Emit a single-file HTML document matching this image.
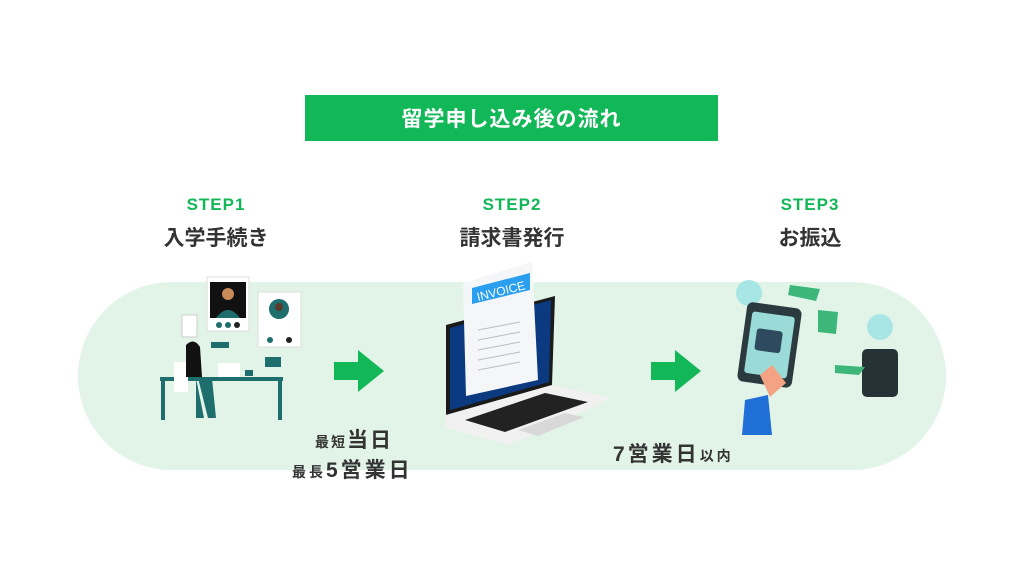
<!DOCTYPE html>
<html><head><meta charset="utf-8"><style>
html,body{margin:0;padding:0;background:#fff;}
body{width:1024px;height:576px;overflow:hidden;position:relative;font-family:"Liberation Sans","Noto Sans CJK JP",sans-serif;}
.t{position:absolute;font-weight:bold;white-space:nowrap;}
</style></head><body>
<svg width="1024" height="576" style="position:absolute;left:0;top:0">
<rect x="78" y="282" width="868" height="188" rx="94" fill="#e2f4e8"/>
<rect x="305" y="95" width="413" height="46" fill="#12b757"/>
<polygon points="334,362 358,362 358,350 384,371 358,392 358,380 334,380" fill="#12b757"/>
<polygon points="651,362 675,362 675,350 701,371 675,392 675,380 651,380" fill="#12b757"/>
<rect x="207" y="277" width="42" height="54" fill="#fff" stroke="#ddd"/>
<rect x="210" y="282" width="36" height="36" fill="#111"/>
<circle cx="228" cy="294" r="6" fill="#c98a5a"/>
<path d="M216 318 q12 -16 24 0z" fill="#1f6e6e"/>
<circle cx="219" cy="325" r="3" fill="#1f6e6e"/><circle cx="228" cy="325" r="3" fill="#1f6e6e"/><circle cx="237" cy="325" r="3" fill="#222"/>
<rect x="258" y="292" width="43" height="55" fill="#fff" stroke="#ddd"/>
<circle cx="279" cy="309" r="10" fill="#1f6e6e"/><circle cx="279" cy="307" r="4" fill="#5a3a2a"/>
<circle cx="270" cy="340" r="3" fill="#1f6e6e"/><circle cx="289" cy="340" r="3" fill="#222"/>
<rect x="182" y="315" width="15" height="22" fill="#fff" stroke="#ccc"/>
<rect x="211" y="342" width="18" height="6" fill="#1f6e6e"/>
<rect x="265" y="357" width="16" height="10" fill="#1f6e6e"/>
<rect x="160" y="377" width="123" height="4" fill="#1f6e6e"/>
<rect x="161" y="377" width="4" height="43" fill="#1f6e6e"/><rect x="278" y="377" width="4" height="43" fill="#1f6e6e"/>
<rect x="218" y="363" width="22" height="14" fill="#fff"/>
<rect x="174" y="362" width="14" height="30" fill="#fff"/>
<path d="M186 345 q8 -8 14 2 l2 30 l-16 0z" fill="#111"/>
<circle cx="195" cy="349" r="5" fill="#111"/>
<path d="M198 378 l14 0 l4 40 l-8 0z M196 378 l8 40 l-8 0z" fill="#1f6e6e"/>
<rect x="245" y="370" width="8" height="6" fill="#1f6e6e"/>
<polygon points="446,325 555,296 552,385 446,415" fill="#1a1a1a"/>
<polygon points="450,328 551,300 549,382 450,410" fill="#0b3a80"/>
<polygon points="446,415 552,385 612,398 510,445 446,428" fill="#f1f1f1"/>
<polygon points="465,420 545,393 588,402 505,432" fill="#222"/>
<polygon points="518,430 565,413 584,417 538,436" fill="#d8d8d8"/>
<polygon points="463,283 532,262 538,380 466,396" fill="#f4f6f8"/>
<polygon points="472,288 530,273 530,290 472,304" fill="#2a9ff0"/>
<text x="478" y="301" font-size="12" fill="#fff" font-family="Liberation Sans" transform="rotate(-14 478 301)">INVOICE</text>
<g stroke="#bbb" stroke-width="1"><line x1="478" y1="330" x2="520" y2="322"/><line x1="478" y1="340" x2="520" y2="332"/><line x1="478" y1="350" x2="520" y2="342"/><line x1="478" y1="360" x2="520" y2="352"/><line x1="478" y1="370" x2="520" y2="362"/></g>
<circle cx="749" cy="293" r="13" fill="#a8e6e6"/>
<circle cx="880" cy="327" r="13" fill="#a8e6e6"/>
<rect x="742" y="305" width="55" height="80" rx="6" fill="#2b3a3e" transform="rotate(8 770 345)"/>
<rect x="748" y="314" width="43" height="62" rx="3" fill="#9adbd8" transform="rotate(8 770 345)"/>
<rect x="755" y="330" width="26" height="22" rx="3" fill="#2d4a5e" transform="rotate(8 770 345)"/>
<rect x="862" y="349" width="36" height="48" rx="5" fill="#263236"/>
<path d="M790 285 l30 4 l-4 12 l-28 -6z M818 310 l20 2 l-2 22 l-18 -2z M835 365 l30 2 l-6 8 l-24 -2z" fill="#3db779"/>
<path d="M760 375 l12 -10 l14 18 l-16 14z" fill="#f3a382"/>
<polygon points="745,400 768,395 772,435 742,435" fill="#1f6fd6"/>
</svg>
<div class="t" style="left:305px;top:103px;width:413px;text-align:center;color:#fff;font-size:21px;letter-spacing:1px;">留学申し込み後の流れ</div>
<div class="t" style="left:156px;top:195px;width:120px;text-align:center;color:#12b757;font-size:17px;letter-spacing:1px;">STEP1</div>
<div class="t" style="left:146px;top:222px;width:140px;text-align:center;color:#333;font-size:21px;">入学手続き</div>
<div class="t" style="left:452px;top:195px;width:120px;text-align:center;color:#12b757;font-size:17px;letter-spacing:1px;">STEP2</div>
<div class="t" style="left:442px;top:222px;width:140px;text-align:center;color:#333;font-size:21px;">請求書発行</div>
<div class="t" style="left:750px;top:195px;width:120px;text-align:center;color:#12b757;font-size:17px;letter-spacing:1px;">STEP3</div>
<div class="t" style="left:740px;top:222px;width:140px;text-align:center;color:#333;font-size:21px;">お振込</div>
<div class="t" style="left:315px;top:424px;color:#333;letter-spacing:2px;"><span style="font-size:14px">最短</span><span style="font-size:21px">当日</span></div>
<div class="t" style="left:292px;top:454px;color:#333;letter-spacing:3px;"><span style="font-size:14px">最長</span><span style="font-size:21px">5営業日</span></div>
<div class="t" style="left:613px;top:438px;color:#333;letter-spacing:3px;"><span style="font-size:21px">7営業日</span><span style="font-size:14px">以内</span></div>
</body></html>
